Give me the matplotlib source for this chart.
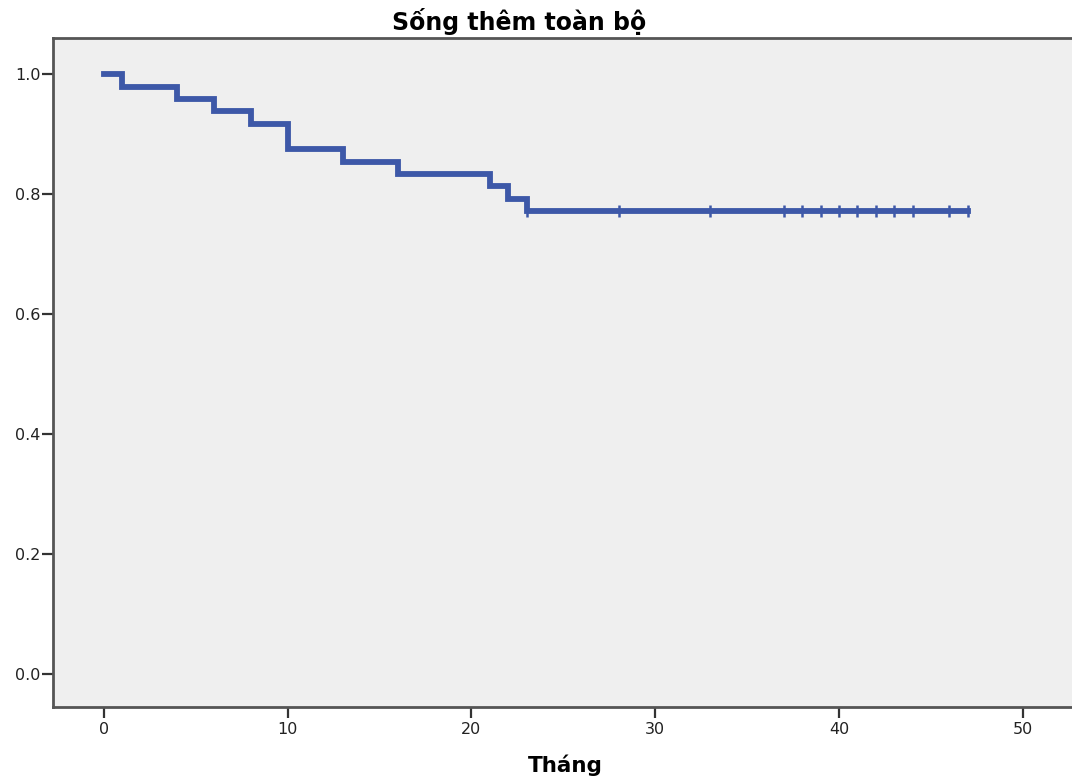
import matplotlib
matplotlib.use("Agg")
import matplotlib.pyplot as plt

plt.rcParams['font.family'] = ['DejaVu Sans']

# Kaplan-Meier estimate: event times (months) and survival after each event
event_times = [0, 1, 4, 6, 8, 10, 13, 16, 21, 22, 23]
survival = [1.0, 0.979, 0.958, 0.938, 0.917, 0.875, 0.854, 0.833, 0.8125, 0.792, 0.771]
last_followup = 47

# censored observations (months)
censored_times = [23, 28, 33, 37, 38, 39, 40, 41, 42, 43, 44, 46, 47]

title = "Sống thêm toàn bộ"
xlabel = "Tháng"
xticks = [0, 10, 20, 30, 40, 50]
yticks = [0.0, 0.2, 0.4, 0.6, 0.8, 1.0]

line_color = '#3d58a8'
axis_color = '#555555'

fig = plt.figure(figsize=(10.72, 7.83), dpi=100)
ax = fig.add_axes([0.0494, 0.0971, 0.9506, 0.8544])
ax.set_facecolor('#efefef')

xs = event_times + [last_followup]
ys = survival + [survival[-1]]
ax.step(xs, ys, where='post', color=line_color, lw=4.2, solid_joinstyle='miter')


def surv_at(t):
    s = survival[0]
    for et, sv in zip(event_times, survival):
        if et <= t:
            s = sv
    return s


ax.plot(censored_times, [surv_at(t) for t in censored_times], ls='none',
        marker='|', ms=9, mew=1.8, color=line_color)

ax.set_xlim(-2.77, 52.67)
ax.set_ylim(-0.055, 1.06)
ax.set_xticks(xticks)
ax.set_xticklabels([str(t) for t in xticks])
ax.set_yticks(yticks)
ax.set_yticklabels([f"{v:.1f}" for v in yticks])
ax.tick_params(direction='out', length=8, width=1.6, color='#333333',
               labelsize=11.5, labelcolor='#222222')
ax.tick_params(axis='y', pad=1)
ax.tick_params(axis='x', pad=3)

for side in ['left', 'bottom', 'top']:
    ax.spines[side].set_color(axis_color)
    ax.spines[side].set_linewidth(2.0)
ax.spines['right'].set_visible(False)

fig.text(0.484, 0.9617, title, ha='center', va='baseline', fontsize=17, fontweight='bold')
fig.text(0.527, 0.014, xlabel, ha='center', va='baseline', fontsize=15.5, fontweight='bold')

fig.savefig('out.png', dpi=100)
